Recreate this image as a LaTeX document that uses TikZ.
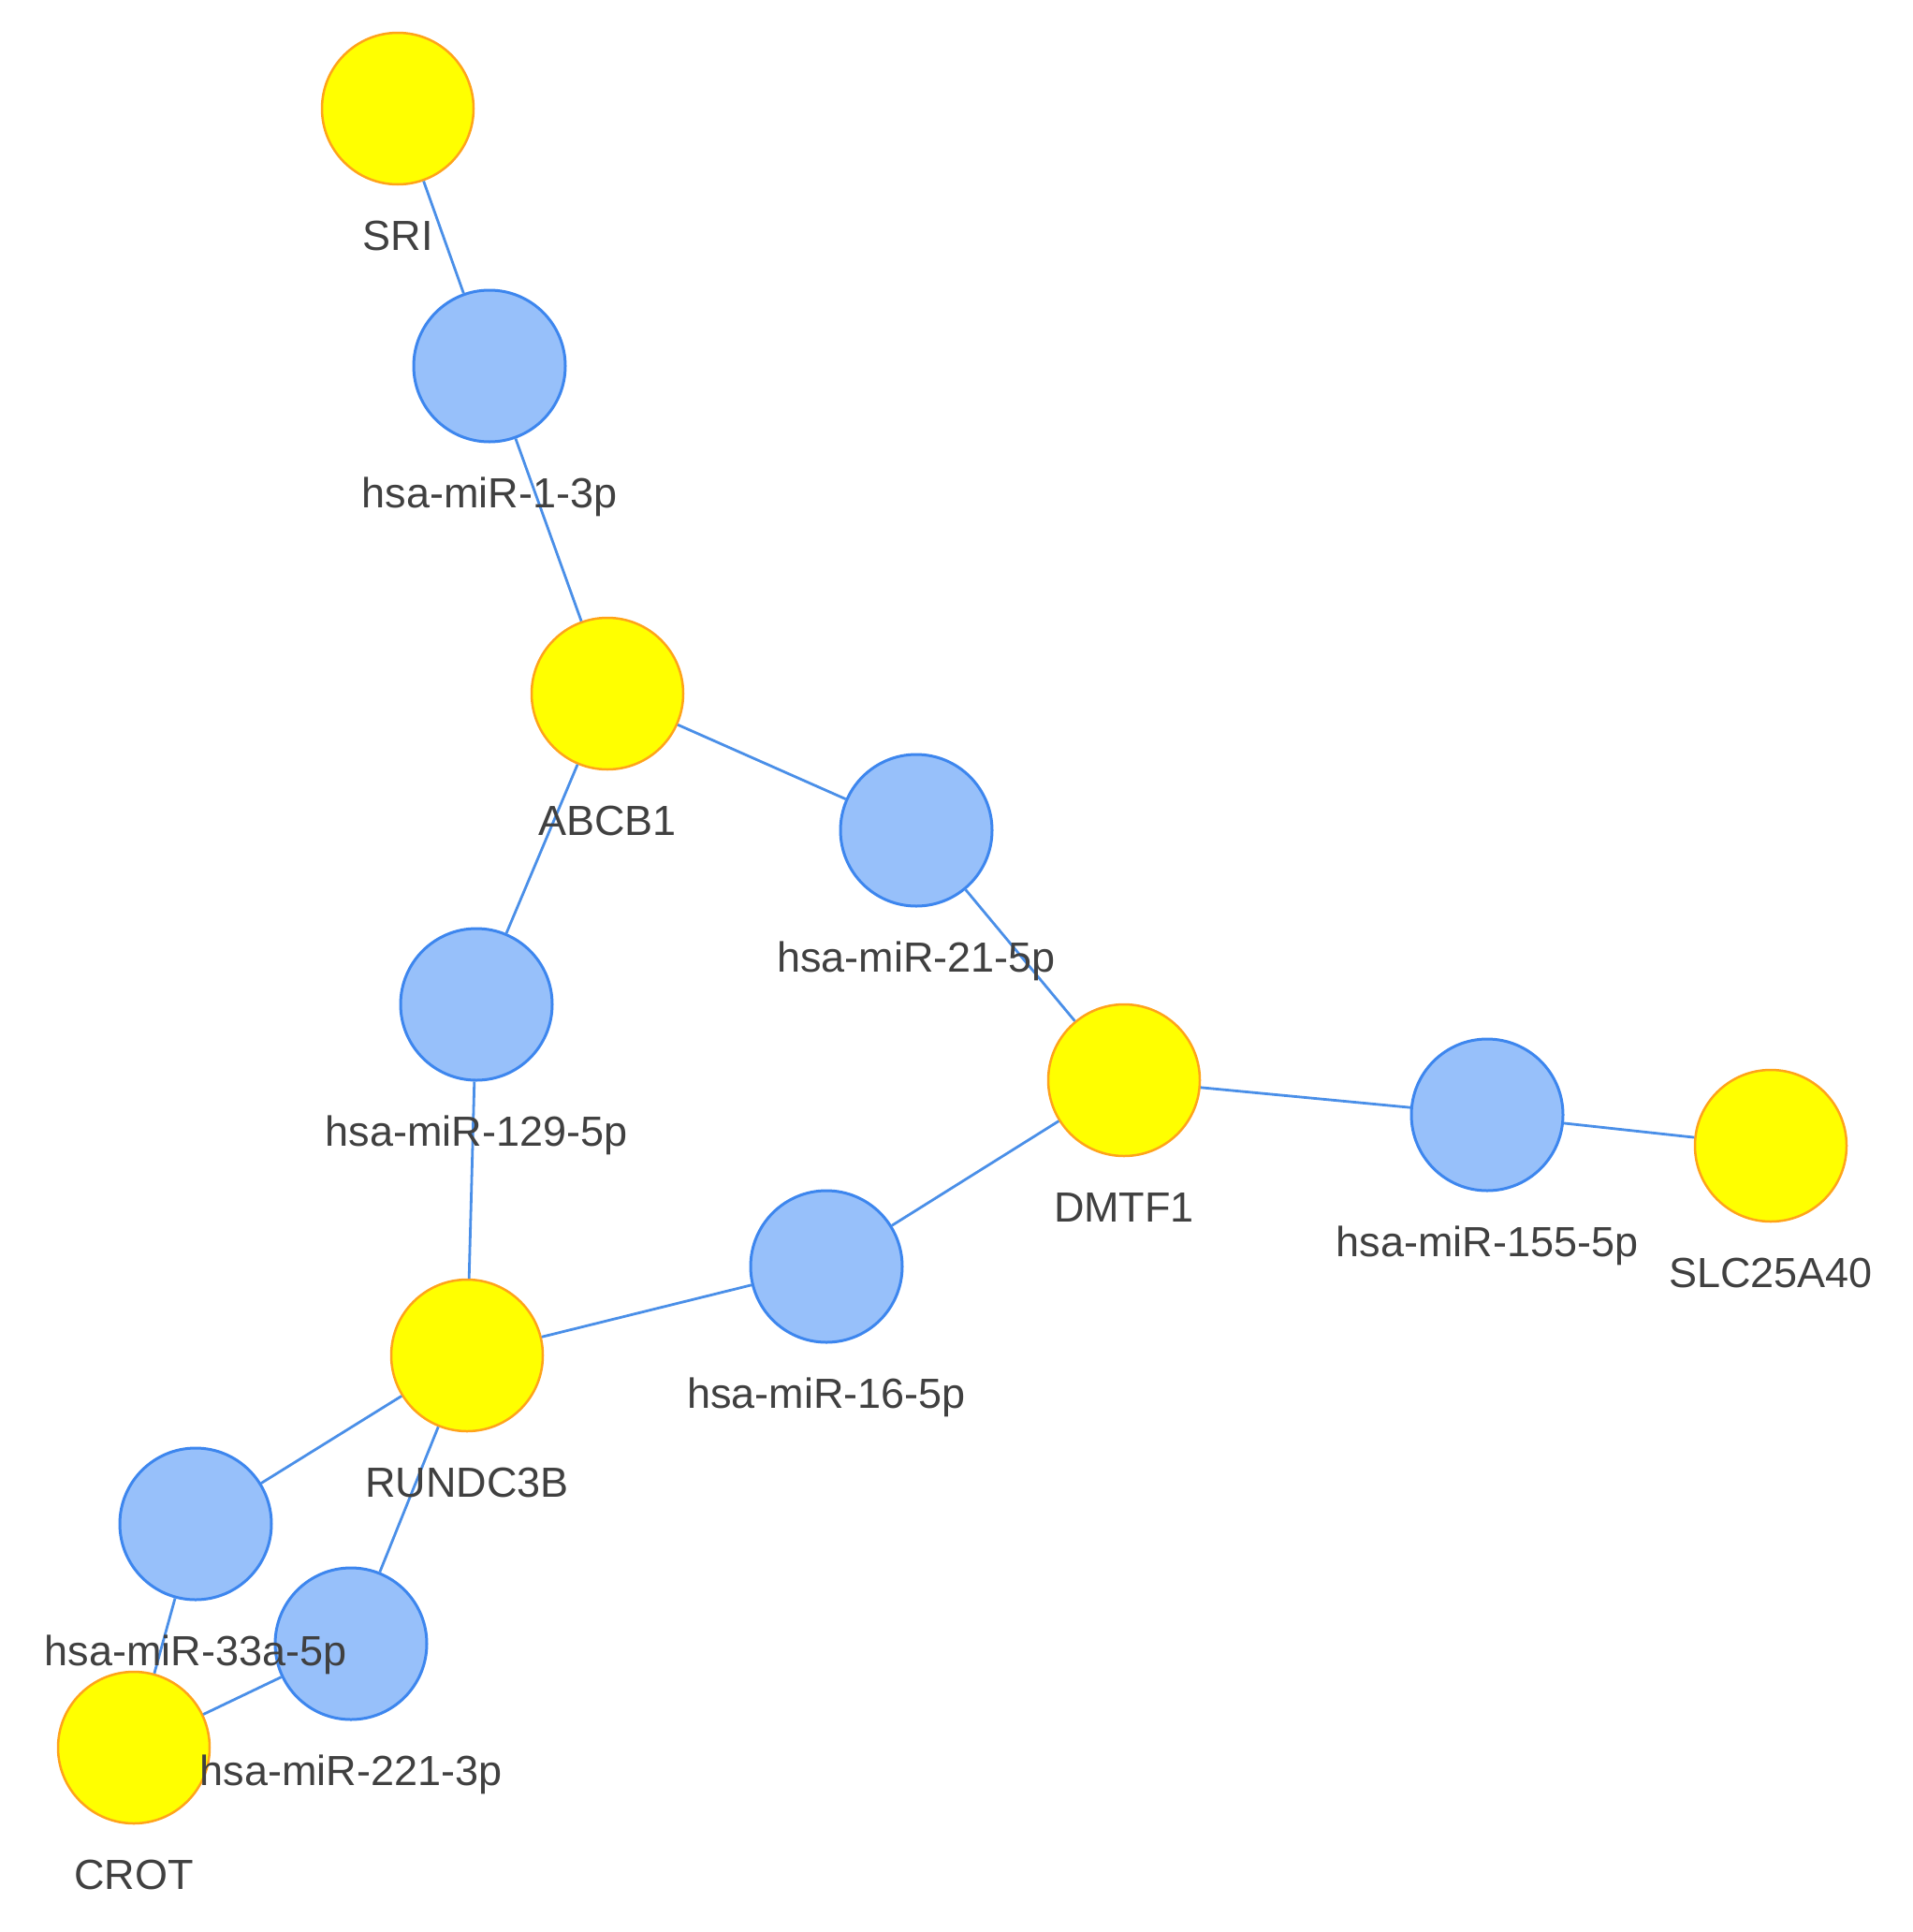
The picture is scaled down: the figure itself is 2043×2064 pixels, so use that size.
\documentclass[tikz,border=0pt]{standalone}
\usepackage{fontspec}
\setmainfont{Liberation Sans}
\definecolor{gfill}{HTML}{FFFF00}
\definecolor{gborder}{HTML}{FFA31A}
\definecolor{mfill}{HTML}{97C0FA}
\definecolor{mborder}{HTML}{3D86EE}
\definecolor{edgecol}{HTML}{4A8FE8}
\definecolor{txt}{HTML}{404040}
\begin{document}
\begin{tikzpicture}[x=1pt,y=-1pt,
  gene/.style={circle,draw=gborder,fill=gfill,line width=2.5pt,minimum size=162pt,inner sep=0pt},
  mir/.style={circle,draw=mborder,fill=mfill,line width=3pt,minimum size=162pt,inner sep=0pt},
  lab/.style={anchor=base,text=txt,font=\fontsize{45}{50}\selectfont,inner sep=0pt},
  edge/.style={draw=edgecol,line width=2.8pt}]
\useasboundingbox (0,0) rectangle (2043,2064);
\fill[white] (0,0) rectangle (2043,2064);
% nodes
\node[gene] (SRI) at (425,116) {};
\node[mir] (m13) at (523,391) {};
\node[gene] (ABCB1) at (649,741) {};
\node[mir] (m21) at (979,887) {};
\node[mir] (m129) at (509,1073) {};
\node[gene] (DMTF1) at (1201,1154) {};
\node[mir] (m155) at (1589,1191) {};
\node[gene] (SLC) at (1892,1224) {};
\node[mir] (m16) at (883,1353) {};
\node[gene] (RUN) at (499,1448) {};
\node[mir] (m33) at (209,1628) {};
\node[mir] (m221) at (375,1756) {};
\node[gene] (CROT) at (143,1867) {};
% edges
\draw[edge] (SRI) -- (m13);
\draw[edge] (m13) -- (ABCB1);
\draw[edge] (ABCB1) -- (m21);
\draw[edge] (ABCB1) -- (m129);
\draw[edge] (m21) -- (DMTF1);
\draw[edge] (m129) -- (RUN);
\draw[edge] (DMTF1) -- (m155);
\draw[edge] (m155) -- (SLC);
\draw[edge] (DMTF1) -- (m16);
\draw[edge] (m16) -- (RUN);
\draw[edge] (RUN) -- (m33);
\draw[edge] (RUN) -- (m221);
\draw[edge] (m33) -- (CROT);
\draw[edge] (m221) -- (CROT);
% labels
\node[lab] (lSRI) at (425,267) {SRI};
\node[lab] (l13) at (523,542) {hsa-miR-1-3p};
\node[lab] (lABCB1) at (649,892) {ABCB1};
\node[lab] (l21) at (979,1038) {hsa-miR-21-5p};
\node[lab] (l129) at (509,1224) {hsa-miR-129-5p};
\node[lab] (lDMTF1) at (1201,1305) {DMTF1};
\node[lab] (l155) at (1589,1342) {hsa-miR-155-5p};
\node[lab] (lSLC) at (1892,1375) {SLC25A40};
\node[lab] (l16) at (883,1504) {hsa-miR-16-5p};
\node[lab] (lRUN) at (499,1599) {RUNDC3B};
\node[lab] (l33) at (209,1779) {hsa-miR-33a-5p};
\node[lab] (l221) at (375,1907) {hsa-miR-221-3p};
\node[lab] (lCROT) at (143,2018) {CROT};
\end{tikzpicture}
\end{document}
